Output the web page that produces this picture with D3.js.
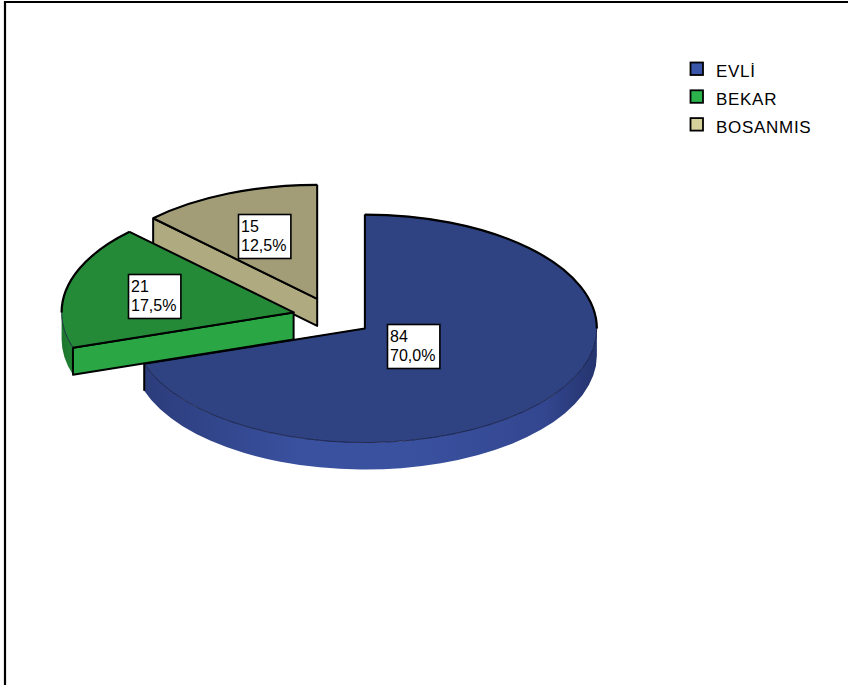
<!DOCTYPE html>
<html>
<head>
<meta charset="utf-8">
<script src="https://cdn.jsdelivr.net/npm/d3@7/dist/d3.min.js"></script>
<style>
  html, body { margin: 0; padding: 0; background: #fff; }
  svg { display: block; }
</style>
</head>
<body>
<svg id="chart" width="848" height="685"></svg>
<script>
// ---- data ----
const categories = ["EVLİ", "BEKAR", "BOSANMIS"];
const counts = [84, 21, 15];
const percentLabels = ["70,0%", "17,5%", "12,5%"];
const topColors = ["#2f4282", "#248a37", "#a29d77"];
const faceColors = ["#2f4282", "#2ba645", "#b0aa81"];
const legendColors = ["#3a56a8", "#2bb24b", "#d7d19c"];

// ---- layout ----
const W = 848, H = 685;
const cx = 332.5, cy = 317, rx = 232, ry = 114, depth = 27, explode = 40;
const labelFrac = [0.26, 0.62, 0.6];

const svg = d3.select("#chart");

const defs = svg.append("defs");
const gB = defs.append("linearGradient").attr("id", "sideBlue")
  .attr("gradientUnits", "userSpaceOnUse").attr("x1", 140).attr("x2", 600).attr("y1", 0).attr("y2", 0);
[[0, "#2b3c7a"], [0.35, "#3a51a0"], [0.6, "#3a51a0"], [0.88, "#33468f"], [1, "#24336c"]]
  .forEach(s => gB.append("stop").attr("offset", s[0]).attr("stop-color", s[1]));
const gG = defs.append("linearGradient").attr("id", "sideGreen")
  .attr("gradientUnits", "userSpaceOnUse").attr("x1", 55).attr("x2", 80).attr("y1", 0).attr("y2", 0);
[[0, "#1b6e2a"], [1, "#228a36"]].forEach(s => gG.append("stop").attr("offset", s[0]).attr("stop-color", s[1]));
const sideFills = ["url(#sideBlue)", "url(#sideGreen)", "#a8a27a"];

// frame
svg.append("path").attr("d", `M5,${H} L5,2 L${W},2`).attr("fill", "none")
  .attr("stroke", "#000").attr("stroke-width", 2.2);

const pie = d3.pie().sort(null).value(d => d);
const arcs = pie(counts);

const rimScale = d3.scaleLinear().domain([0, 1]).range([0, 1]);
function pt(o, a, r = 1, dy = 0) {
  return [o[0] + rx * rimScale(r) * Math.sin(a), o[1] - ry * rimScale(r) * Math.cos(a) + dy];
}
function offsetOf(d) {
  const m = (d.startAngle + d.endAngle) / 2;
  return [cx + explode * Math.sin(m), cy - explode * (ry / rx) * Math.cos(m)];
}
function arcTo(p, a1, a2, sweep) {
  const large = Math.abs(a2 - a1) > Math.PI ? 1 : 0;
  return `A${rx},${ry} 0 ${large} ${sweep} ${p[0]},${p[1]}`;
}

const order = [2, 0, 1];
const g = svg.append("g");

order.forEach(i => {
  const d = arcs[i];
  const o = offsetOf(d);
  const s = d.startAngle, e = d.endAngle;
  const sg = g.append("g");

  // outer side (visible front half)
  const a1 = Math.max(s, Math.PI / 2), a2 = Math.min(e, 3 * Math.PI / 2);
  if (a2 > a1) {
    const p1 = pt(o, a1), p2 = pt(o, a2), q2 = pt(o, a2, 1, depth), q1 = pt(o, a1, 1, depth);
    sg.append("path")
      .attr("d", `M${p1} ${arcTo(p2, a1, a2, 1)} L${q2} ${arcTo(q1, a2, a1, 0)} Z`)
      .attr("fill", sideFills[i]).attr("stroke", "none");
    if (a2 === e && e < 3 * Math.PI / 2) {
      sg.append("line").attr("x1", p2[0]).attr("y1", p2[1]).attr("x2", q2[0]).attr("y2", q2[1])
        .attr("stroke", "#000").attr("stroke-width", 2);
    }
  }
  // radial faces
  const faces = [];
  if (s > Math.PI && s < 2 * Math.PI) faces.push(s);
  if (e > 0 && e < Math.PI) faces.push(e);
  faces.forEach(a => {
    const p = pt(o, a), pd = pt(o, a, 1, depth);
    sg.append("path")
      .attr("d", `M${o} L${p} L${pd} L${o[0]},${o[1] + depth} Z`)
      .attr("fill", faceColors[i]).attr("stroke", "#000").attr("stroke-width", 2)
      .attr("stroke-linejoin", "round");
  });
  // top face
  const ps = pt(o, s), pe = pt(o, e);
  sg.append("path")
    .attr("d", `M${o} L${ps} ${arcTo(pe, s, e, 1)} Z`)
    .attr("fill", topColors[i]).attr("stroke", "#10183a").attr("stroke-width", 0.8);
  // thick edges: radial lines + back rim
  sg.append("path").attr("d", `M${ps} L${o} L${pe}`).attr("fill", "none")
    .attr("stroke", "#000").attr("stroke-width", 2).attr("stroke-linejoin", "round");
  const backSegs = [[Math.max(s, 3 * Math.PI / 2), Math.min(e, 2 * Math.PI)], [Math.max(s, 0), Math.min(e, Math.PI / 2)]];
  backSegs.forEach(([b1, b2]) => {
    if (b2 > b1) {
      sg.append("path").attr("d", `M${pt(o, b1)} ${arcTo(pt(o, b2), b1, b2, 1)}`)
        .attr("fill", "none").attr("stroke", "#000").attr("stroke-width", 2.2);
    }
  });
});

// labels
arcs.forEach((d, i) => {
  const o = offsetOf(d);
  const m = (d.startAngle + d.endAngle) / 2;
  const c = pt(o, m, labelFrac[i]);
  const lg = svg.append("g");
  const t1 = lg.append("text").text(counts[i]);
  const t2 = lg.append("text").text(percentLabels[i]);
  lg.selectAll("text").attr("font-family", "Liberation Sans, Arial, Helvetica, sans-serif")
    .attr("font-size", 16).attr("fill", "#000");
  const w = Math.max(t1.node().getComputedTextLength(), t2.node().getComputedTextLength()) + 7;
  const h = 44;
  const bx = Math.round(c[0] - w / 2), by = Math.round(c[1] - h / 2);
  lg.insert("rect", "text").attr("x", bx + 0.5).attr("y", by + 0.5).attr("width", w).attr("height", h)
    .attr("fill", "#fff").attr("stroke", "#000").attr("stroke-width", 1.6);
  t1.attr("x", bx + 3).attr("y", by + 18);
  t2.attr("x", bx + 3).attr("y", by + 37);
});

// legend
const leg = svg.append("g").attr("transform", "translate(690,62)");
categories.forEach((c, i) => {
  const row = leg.append("g").attr("transform", `translate(0,${i * 27.8})`);
  row.append("rect").attr("x", 0.5).attr("y", 0.5).attr("width", 12.5).attr("height", 12.5)
    .attr("fill", legendColors[i]).attr("stroke", "#000").attr("stroke-width", 1.8);
  row.append("text").attr("x", 26).attr("y", 15).text(c)
    .attr("font-family", "Liberation Sans, Arial, Helvetica, sans-serif")
    .attr("font-size", 17).attr("letter-spacing", 0.7).attr("fill", "#000");
});
</script>
</body>
</html>
